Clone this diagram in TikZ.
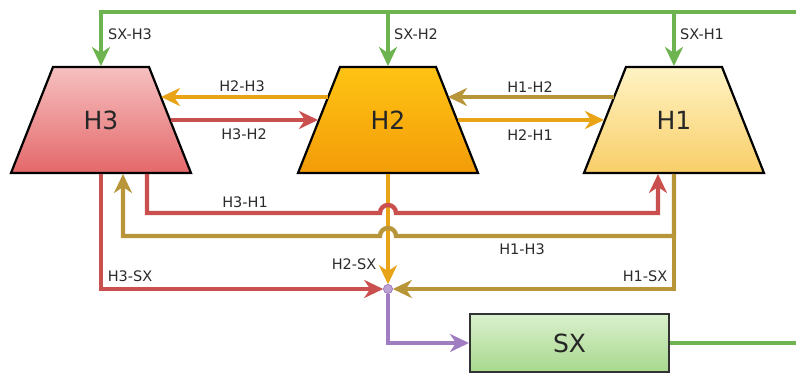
\documentclass[tikz,border=0pt]{standalone}
\usepackage{fontspec}
\setmainfont{DejaVu Sans}
\usetikzlibrary{arrows.meta}
\definecolor{cred}{HTML}{C9504F}
\definecolor{corange}{HTML}{E8A317}
\definecolor{colive}{HTML}{B89538}
\definecolor{cgreen}{HTML}{6DB34F}
\definecolor{cpurple}{HTML}{A07CC0}
\definecolor{ctext}{HTML}{2B2B2B}
\definecolor{hAtop}{RGB}{246,192,192}
\definecolor{hAbot}{RGB}{228,104,106}
\definecolor{hBtop}{RGB}{255,196,20}
\definecolor{hBbot}{RGB}{243,156,8}
\definecolor{hCtop}{RGB}{255,243,196}
\definecolor{hCbot}{RGB}{248,206,104}
\definecolor{sxtop}{RGB}{218,240,205}
\definecolor{sxbot}{RGB}{168,216,142}
\tikzset{
  trtext/.style={font=\fontsize{25}{28}\selectfont, text=black!85, inner sep=0pt},
  trline/.style={draw=black, line width=2.2pt, line join=miter},
  sxbox/.style={rectangle, draw=black!80, line width=2pt, minimum width=199pt,
    minimum height=58pt, top color=sxtop, bottom color=sxbot,
    font=\fontsize{25}{28}\selectfont, text=black!85},
  conn/.style={line width=4.4pt, -{Stealth[length=19pt,width=18pt,inset=6pt]}},
  plain/.style={line width=4.4pt},
  lbl/.style={font=\fontsize{14.5}{16}\selectfont, text=ctext, inner sep=0pt},
}
\newcommand\mytrap[4]{%
  \path[trline, top color=#3, bottom color=#4] (#2-48,67) -- (#2+48,67) -- (#2+90,173) -- (#2-90,173) -- cycle;
  \node[trtext] (#1) at (#2,120) {#1};
  \coordinate (#1n) at (#2,66);
  \coordinate (#1s) at (#2,174);
  \coordinate (#1ul) at (#2-60,97);
  \coordinate (#1ur) at (#2+60,97);
  \coordinate (#1ml) at (#2-70,120);
  \coordinate (#1mr) at (#2+70,120);
}
\begin{document}
\begin{tikzpicture}[x=1pt,y=-1pt]
\useasboundingbox (0,0) rectangle (796,374);
% nodes
\mytrap{H3}{101}{hAtop}{hAbot}
\mytrap{H2}{388}{hBtop}{hBbot}
\mytrap{H1}{674}{hCtop}{hCbot}
\node[sxbox] (SX) at (569.5,343) {SX};
\node[circle, fill=cpurple!70!white, draw=cpurple, line width=0.6pt, minimum size=9pt, inner sep=0pt] (J) at (388,289) {};
\coordinate (Rt) at (796,12);
\coordinate (Rb) at (796,343);
\coordinate (hopA) at (380,213);
\coordinate (hopB) at (396,236);
% green feeds
\draw[plain, cgreen] (SX.east) -- (Rb);
\draw[conn, cgreen] (Rt) -| (H3n);
\draw[conn, cgreen] (H2n |- Rt) -- (H2n);
\draw[conn, cgreen] (H1n |- Rt) -- (H1n);
% horizontal between trapezia
\draw[conn, corange] (H2ul) -- (H3ur);
\draw[conn, cred] (H3mr) -- (H2ml);
\draw[conn, colive] (H1ul) -- (H2ur);
\draw[conn, corange] (H2mr) -- (H1ml);
% bottom loops
\draw[conn, corange] (H2s) -- (J);
\draw[conn, cred] ([xshift=46pt]H3s) |- (hopA) arc[start angle=180, end angle=360, radius=8] -| ([xshift=-16pt]H1s);
\draw[conn, colive] (H1s) |- (hopB) arc[start angle=0, end angle=-180, radius=8] -| ([xshift=22pt]H3s);
\draw[conn, cred] (H3s) |- (J);
\draw[conn, colive] (H1s) |- (J);
\draw[conn, cpurple] (J) |- (SX.west);
\node[circle, fill=cpurple!70!white, draw=cpurple, line width=0.6pt, minimum size=9pt, inner sep=0pt] at (J) {};
% labels
\node[lbl] (lSXH3) at (130,34) {SX-H3};
\node[lbl] (lSXH2) at (416,34) {SX-H2};
\node[lbl] (lSXH1) at (702,34) {SX-H1};
\node[lbl] (lH2H3) at (242,86) {H2-H3};
\node[lbl] (lH3H2) at (244,134) {H3-H2};
\node[lbl] (lH1H2) at (530,87) {H1-H2};
\node[lbl] (lH2H1) at (530,135) {H2-H1};
\node[lbl] (lH3H1) at (245,202) {H3-H1};
\node[lbl] (lH1H3) at (522,249) {H1-H3};
\node[lbl] (lH3SX) at (130,276) {H3-SX};
\node[lbl] (lH2SX) at (354,264) {H2-SX};
\node[lbl] (lH1SX) at (645,276) {H1-SX};
\end{tikzpicture}
\end{document}
